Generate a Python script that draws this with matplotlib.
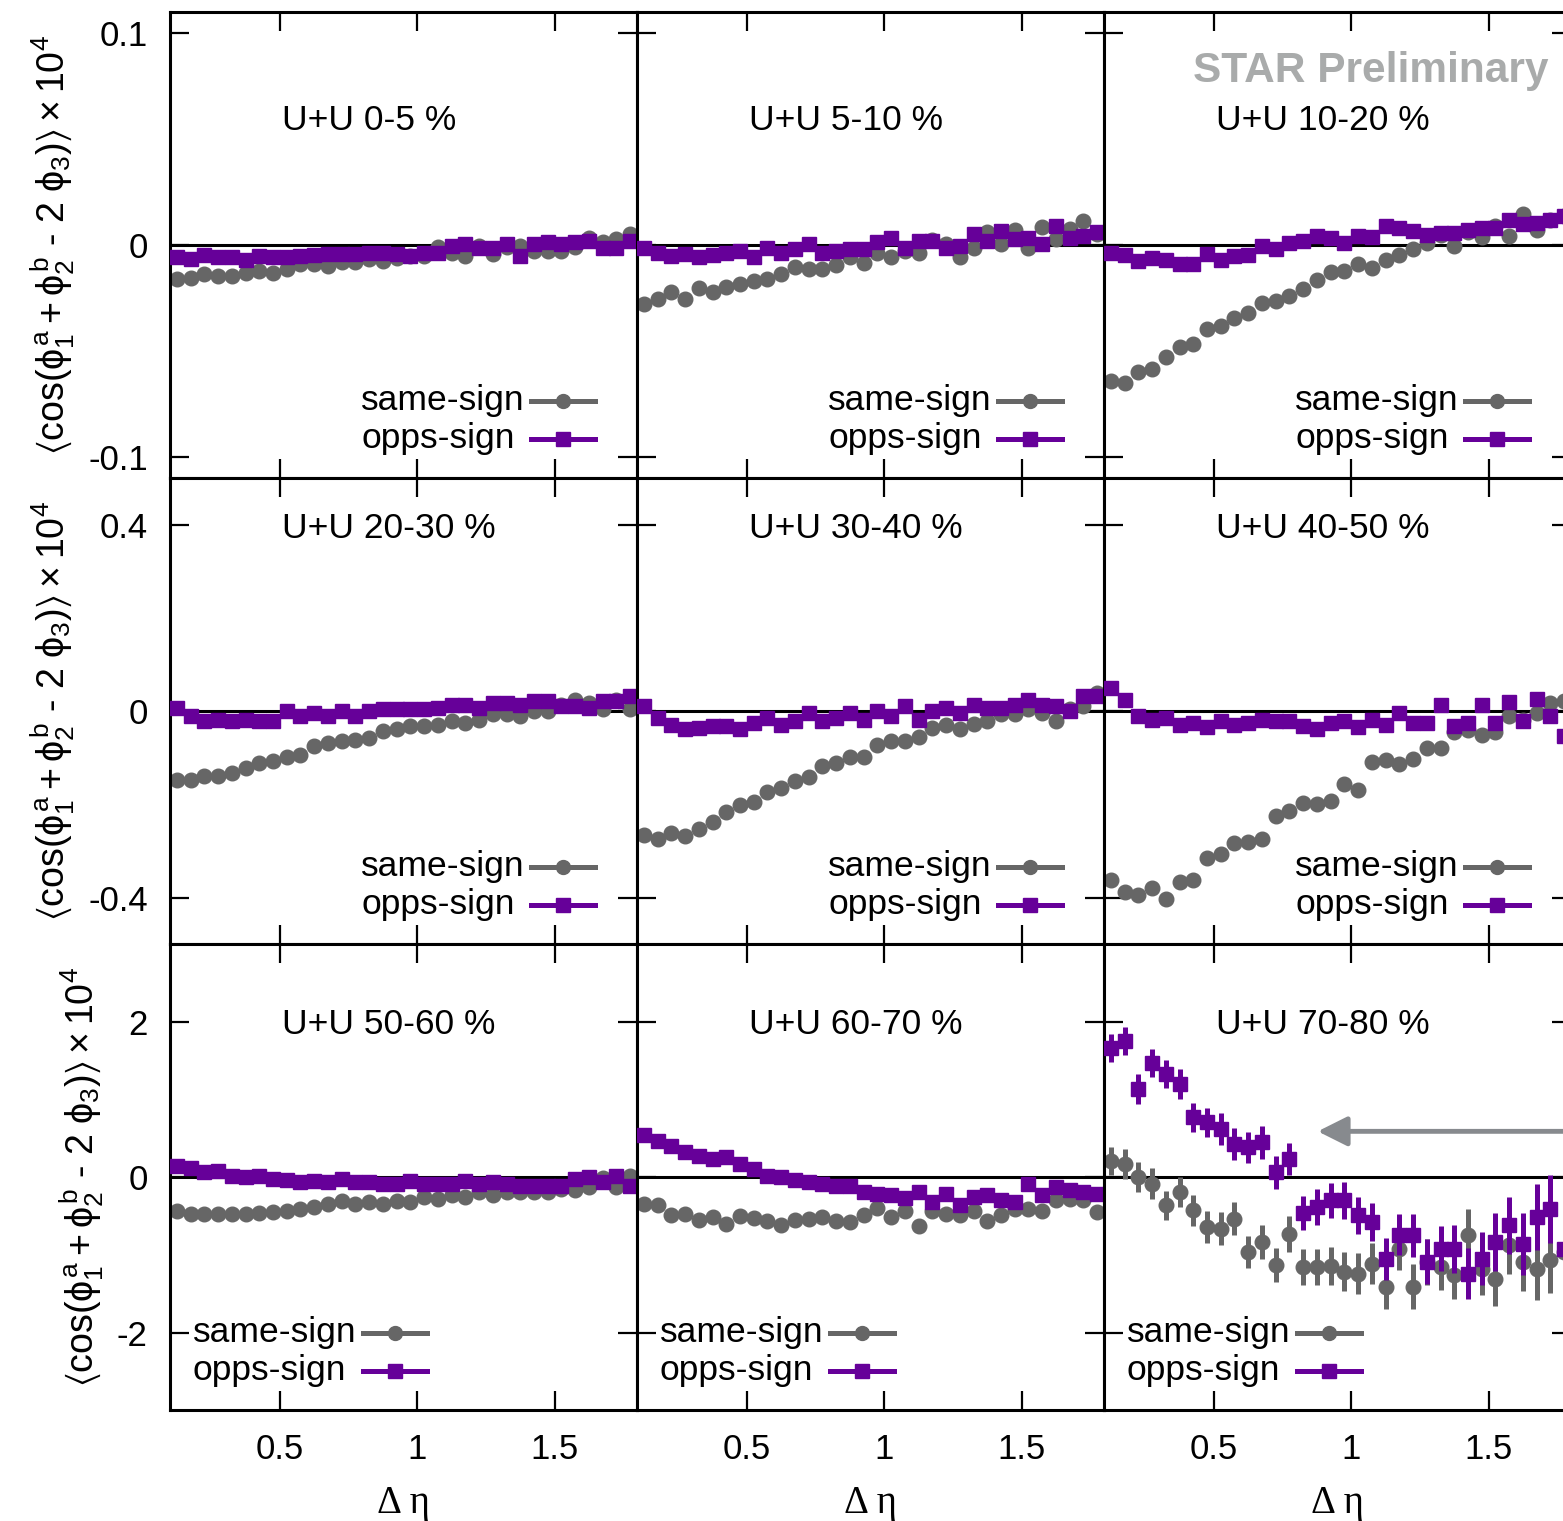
import matplotlib
matplotlib.use("Agg")
import matplotlib.pyplot as plt
from matplotlib.lines import Line2D
from matplotlib.ticker import FormatStrFormatter

# delta-eta bin centres
deta = [0.125, 0.175, 0.225, 0.275, 0.325, 0.375, 0.425, 0.475, 0.525, 0.575,
        0.625, 0.675, 0.725, 0.775, 0.825, 0.875, 0.925, 0.975, 1.025, 1.075,
        1.125, 1.175, 1.225, 1.275, 1.325, 1.375, 1.425, 1.475, 1.525, 1.575,
        1.625, 1.675, 1.725, 1.775]

centralities = ["0-5", "5-10", "10-20", "20-30", "30-40", "40-50",
                "50-60", "60-70", "70-80"]

# same-sign / opposite-sign correlator (x 10^4) per centrality
ss_00_05 = [-0.016, -0.0156, -0.0134, -0.0145, -0.0145, -0.0129, -0.012, -0.013, -0.011, -0.009,
            -0.009, -0.010, -0.008, -0.008, -0.0066, -0.0074, -0.006, -0.005, -0.005, -0.001,
            -0.0035, -0.005, -0.0003, -0.004, -0.001, -0.0003, -0.0027, -0.0027, -0.0027, -0.001,
            0.0036, 0.0013, 0.0028, 0.0052]
os_00_05 = [-0.0058, -0.0066, -0.0046, -0.0058, -0.0058, -0.0071, -0.005, -0.0058, -0.0055, -0.005,
            -0.0046, -0.0043, -0.0043, -0.0043, -0.0039, -0.0035, -0.0043, -0.005, -0.0035, -0.0035,
            -0.0003, 0.0005, -0.0011, -0.0011, 0.0005, -0.005, 0.0005, 0.0013, 0.0005, 0.0013,
            0.002, -0.0011, -0.0011, 0.002]

ss_05_10 = [-0.0279, -0.0252, -0.0219, -0.0255, -0.0203, -0.0219, -0.0197, -0.0181, -0.0169, -0.0158,
            -0.0134, -0.0102, -0.0113, -0.0113, -0.0095, -0.0058, -0.0082, -0.0039, -0.0055, -0.0027,
            -0.0039, 0.0024, 0.0005, -0.0055, -0.0014, 0.006, 0.0005, 0.0071, -0.0011, 0.0084,
            0.0028, 0.0076, 0.0115, 0.0052]
os_05_10 = [-0.0011, -0.0035, -0.005, -0.0043, -0.0055, -0.0046, -0.0035, -0.0027, -0.0058, -0.0011,
            -0.0035, -0.0019, 0.0005, -0.0035, -0.0027, -0.0019, -0.0019, 0.0013, 0.0036, -0.0011,
            0.002, 0.002, -0.0011, -0.0003, 0.0052, 0.002, 0.0068, 0.0028, 0.0036, 0.0005,
            0.0091, 0.0036, 0.0044, 0.006]

ss_10_20 = [-0.064, -0.0648, -0.060, -0.0585, -0.0528, -0.0482, -0.0465, -0.0396, -0.0383, -0.0343,
            -0.032, -0.0273, -0.0265, -0.0238, -0.0205, -0.0162, -0.0126, -0.012, -0.0091, -0.0107,
            -0.0068, -0.0044, -0.002, 0.0011, 0.005, -0.0005, 0.0063, 0.0038, 0.009, 0.0043,
            0.0145, 0.0074, 0.0121, 0.0137]
os_10_20 = [-0.0036, -0.0044, -0.0076, -0.006, -0.0068, -0.0091, -0.0091, -0.0041, -0.0072, -0.0052,
            -0.0044, -0.0005, -0.002, 0.0011, 0.0019, 0.0043, 0.0035, 0.0011, 0.0043, 0.0038,
            0.009, 0.0082, 0.0066, 0.005, 0.0058, 0.0058, 0.0074, 0.0082, 0.0082, 0.0121,
            0.0098, 0.0106, 0.0121, 0.0137]

ss_20_30 = [-0.147, -0.147, -0.139, -0.139, -0.132, -0.122, -0.111, -0.107, -0.099, -0.093,
            -0.075, -0.069, -0.064, -0.061, -0.057, -0.043, -0.039, -0.032, -0.032, -0.029,
            -0.021, -0.025, -0.018, -0.007, -0.007, -0.011, 0.0, 0.0, 0.014, 0.025,
            0.018, 0.004, 0.025, 0.004]
os_20_30 = [0.007, -0.011, -0.021, -0.018, -0.021, -0.018, -0.021, -0.021, 0.0, -0.011,
            -0.004, -0.011, 0.0, -0.011, 0.0, 0.005, 0.004, 0.004, 0.004, 0.007,
            0.014, 0.014, 0.007, 0.018, 0.018, 0.014, 0.021, 0.021, 0.011, 0.011,
            0.007, 0.021, 0.021, 0.032]

ss_30_40 = [-0.265, -0.274, -0.262, -0.267, -0.252, -0.238, -0.217, -0.202, -0.195, -0.174,
            -0.165, -0.150, -0.141, -0.117, -0.111, -0.098, -0.098, -0.072, -0.063, -0.064,
            -0.055, -0.036, -0.029, -0.038, -0.027, -0.022, -0.007, -0.007, 0.004, -0.004,
            -0.022, 0.004, 0.011, 0.039]
os_30_40 = [0.011, -0.014, -0.029, -0.038, -0.036, -0.032, -0.031, -0.039, -0.025, -0.014,
            -0.029, -0.022, -0.004, -0.022, -0.014, -0.004, -0.018, 0.0, -0.011, 0.011,
            -0.018, 0.0, 0.007, -0.004, 0.014, 0.007, 0.007, 0.014, 0.025, 0.014,
            0.011, 0.0, 0.032, 0.032]

ss_40_50 = [-0.361, -0.388, -0.395, -0.379, -0.403, -0.367, -0.361, -0.315, -0.306, -0.282,
            -0.281, -0.275, -0.225, -0.215, -0.197, -0.199, -0.193, -0.157, -0.168, -0.109,
            -0.105, -0.114, -0.102, -0.079, -0.079, -0.045, -0.041, -0.052, -0.045, -0.011,
            -0.018, -0.004, 0.018, 0.021]
os_40_50 = [0.05, 0.024, -0.011, -0.018, -0.014, -0.029, -0.025, -0.034, -0.021, -0.029,
            -0.025, -0.018, -0.021, -0.021, -0.032, -0.039, -0.025, -0.021, -0.034, -0.018,
            -0.029, -0.004, -0.026, -0.026, 0.014, -0.032, -0.025, 0.014, -0.025, 0.019,
            -0.021, 0.026, -0.011, -0.054]

ss_50_60 = [-0.43, -0.47, -0.47, -0.47, -0.47, -0.47, -0.46, -0.45, -0.43, -0.41,
            -0.385, -0.34, -0.31, -0.34, -0.32, -0.34, -0.30, -0.32, -0.26, -0.28,
            -0.235, -0.26, -0.19, -0.225, -0.19, -0.19, -0.19, -0.19, -0.15, -0.17,
            -0.13, -0.01, -0.13, 0.02]
os_50_60 = [0.14, 0.115, 0.064, 0.085, 0.021, 0.0, 0.013, -0.021, -0.03, -0.056,
            -0.043, -0.056, -0.021, -0.056, -0.064, -0.085, -0.085, -0.043, -0.085, -0.085,
            -0.085, -0.043, -0.085, -0.056, -0.085, -0.107, -0.107, -0.107, -0.107, -0.021,
            0.0, -0.064, 0.013, -0.107]

ss_60_70 = [-0.342, -0.355, -0.483, -0.470, -0.547, -0.513, -0.598, -0.5, -0.526, -0.568,
            -0.611, -0.556, -0.543, -0.513, -0.568, -0.577, -0.491, -0.397, -0.513, -0.44,
            -0.628, -0.44, -0.470, -0.491, -0.44, -0.568, -0.483, -0.406, -0.406, -0.44,
            -0.299, -0.278, -0.299, -0.449]
os_60_70 = [0.543, 0.470, 0.397, 0.329, 0.269, 0.235, 0.256, 0.171, 0.107, 0.021,
            0.0, -0.03, -0.064, -0.085, -0.107, -0.107, -0.184, -0.214, -0.227, -0.269,
            -0.192, -0.321, -0.214, -0.363, -0.256, -0.235, -0.299, -0.321, -0.085, -0.227,
            -0.128, -0.171, -0.192, -0.214]

ss_70_80 = [0.214, 0.171, 0.0, -0.085, -0.363, -0.192, -0.427, -0.641, -0.662, -0.534,
            -0.962, -0.833, -1.133, -0.727, -1.154, -1.154, -1.141, -1.218, -1.239, -1.111,
            -1.41, -0.919, -1.41, -1.09, -1.154, -1.261, -0.748, -1.175, -1.304, -0.876,
            -1.09, -1.175, -1.069, -0.962]
os_70_80 = [1.667, 1.752, 1.133, 1.475, 1.325, 1.197, 0.769, 0.705, 0.62, 0.427,
            0.385, 0.449, 0.064, 0.235, -0.457, -0.385, -0.299, -0.299, -0.491, -0.577,
            -1.047, -0.739, -0.748, -1.09, -0.919, -0.919, -1.239, -1.047, -0.833, -0.62,
            -0.855, -0.513, -0.406, -0.919]
ss_err_70_80 = [0.18, 0.19, 0.19, 0.20, 0.19, 0.19, 0.20, 0.20, 0.21, 0.21,
                0.21, 0.22, 0.22, 0.23, 0.23, 0.23, 0.24, 0.25, 0.26, 0.26,
                0.28, 0.27, 0.29, 0.30, 0.30, 0.31, 0.34, 0.34, 0.35, 0.37,
                0.38, 0.40, 0.42, 0.44]
os_err_70_80 = [0.18, 0.18, 0.19, 0.18, 0.18, 0.19, 0.19, 0.19, 0.20, 0.20,
                0.20, 0.21, 0.21, 0.21, 0.22, 0.23, 0.23, 0.24, 0.24, 0.25,
                0.27, 0.26, 0.28, 0.29, 0.29, 0.31, 0.33, 0.34, 0.37, 0.37,
                0.40, 0.42, 0.44, 0.45]

same_sign = [ss_00_05, ss_05_10, ss_10_20, ss_20_30, ss_30_40, ss_40_50, ss_50_60, ss_60_70, ss_70_80]
opps_sign = [os_00_05, os_05_10, os_10_20, os_20_30, os_30_40, os_40_50, os_50_60, os_60_70, os_70_80]
series_names = ["same-sign", "opps-sign"]

row_ylim = [(-0.11, 0.11), (-0.5, 0.5), (-3, 3)]
row_yticks = [[-0.1, 0, 0.1], [-0.4, 0, 0.4], [-2, 0, 2]]
xticks = [0.5, 1, 1.5]

GRAY = "#666666"
PURPLE = "#660099"
FS = 25.5

plt.rcParams.update({
    "font.family": ["Liberation Sans", "DejaVu Sans"],
    "axes.unicode_minus": False,
    "mathtext.fontset": "custom",
    "mathtext.rm": "Liberation Sans",
    "mathtext.it": "Liberation Sans",
    "mathtext.sf": "Liberation Sans",
    "mathtext.fallback": "stixsans",
})

W, H = 1563, 1521
fig = plt.figure(figsize=(W / 100, H / 100), dpi=100)

col_left = [170, 637, 1104]
row_top = [12, 478, 944]
pw, ph = 467, 466.4

ylabel = r"$\langle\mathrm{cos}(\phi_1^a + \phi_2^b\ \mathrm{‐}\ 2\ \phi_3)\rangle \times 10^4$"

# key layout in axes fraction: text left edge, sample start/end; rows 1-2 right, row 3 left
key_text_x = [0.409, 0.409, 0.049]
key_line_x = [(0.773, 0.910), (0.773, 0.910), (0.413, 0.550)]
key_y = [0.166, 0.085]
label_y = [0.747, 0.872, 0.806]

for k in range(9):
    r, c = divmod(k, 3)
    ax = fig.add_axes([col_left[c] / W, 1 - (row_top[r] + ph) / H, pw / W, ph / H])
    ax.set_xlim(0.1, 1.8)
    ax.set_ylim(*row_ylim[r])
    ax.axhline(0, color="black", lw=2.2, zorder=1)

    if k == 8:
        ax.errorbar(deta, same_sign[k], yerr=ss_err_70_80, fmt="o", color=GRAY, ms=10.5,
                    elinewidth=3.6, capsize=0, zorder=2)
        ax.errorbar(deta, opps_sign[k], yerr=os_err_70_80, fmt="s", color=PURPLE, ms=10,
                    elinewidth=3.6, capsize=0, zorder=3)
        ax.annotate("", xy=(0.878, 0.59), xytext=(1.9, 0.59),
                    arrowprops=dict(arrowstyle="-|>", color="#878a8e", lw=3.5,
                                    mutation_scale=45, shrinkA=0, shrinkB=0))
    else:
        ax.plot(deta, same_sign[k], "o", color=GRAY, ms=10.5, zorder=2)
        ax.plot(deta, opps_sign[k], "s", color=PURPLE, ms=10, zorder=3)

    ax.text(0.24, label_y[r], f"U+U {centralities[k]} %", transform=ax.transAxes,
            fontsize=FS, ha="left", va="baseline")

    # gnuplot-style key: left-justified text, sample to the right
    for name, col, mk, yk in zip(series_names, [GRAY, PURPLE], ["o", "s"], key_y):
        ax.text(key_text_x[r], yk, name, transform=ax.transAxes, fontsize=FS,
                ha="left", va="center")
        x0, x1 = key_line_x[r]
        ax.add_line(Line2D([x0, x1], [yk, yk], transform=ax.transAxes, color=col,
                           lw=3.6, clip_on=False))
        ax.add_line(Line2D([(x0 + x1) / 2], [yk], transform=ax.transAxes, color=col,
                           marker=mk, ms=10 if mk == "o" else 9.5, clip_on=False))

    ax.set_xticks(xticks)
    ax.set_yticks(row_yticks[r])
    ax.xaxis.set_major_formatter(FormatStrFormatter("%g"))
    ax.yaxis.set_major_formatter(FormatStrFormatter("%g"))
    ax.tick_params(direction="in", top=True, right=True, length=14, width=1.6,
                   labelsize=25, pad=16,
                   labelleft=(c == 0), labelbottom=(r == 2))
    for s in ax.spines.values():
        s.set_linewidth(2.2)

    if c == 0:
        ax.set_ylabel(ylabel, fontsize=27, labelpad=8)
    if r == 2:
        ax.set_xlabel("Δ η", fontsize=28, family=["Liberation Serif", "DejaVu Serif"],
                      labelpad=14)

fig.text(1193 / W, 1 - 82 / H, "STAR Preliminary", fontsize=30.5, fontweight="bold",
         color="#a9abab", ha="left", va="baseline")

fig.savefig("out.png", dpi=100)
